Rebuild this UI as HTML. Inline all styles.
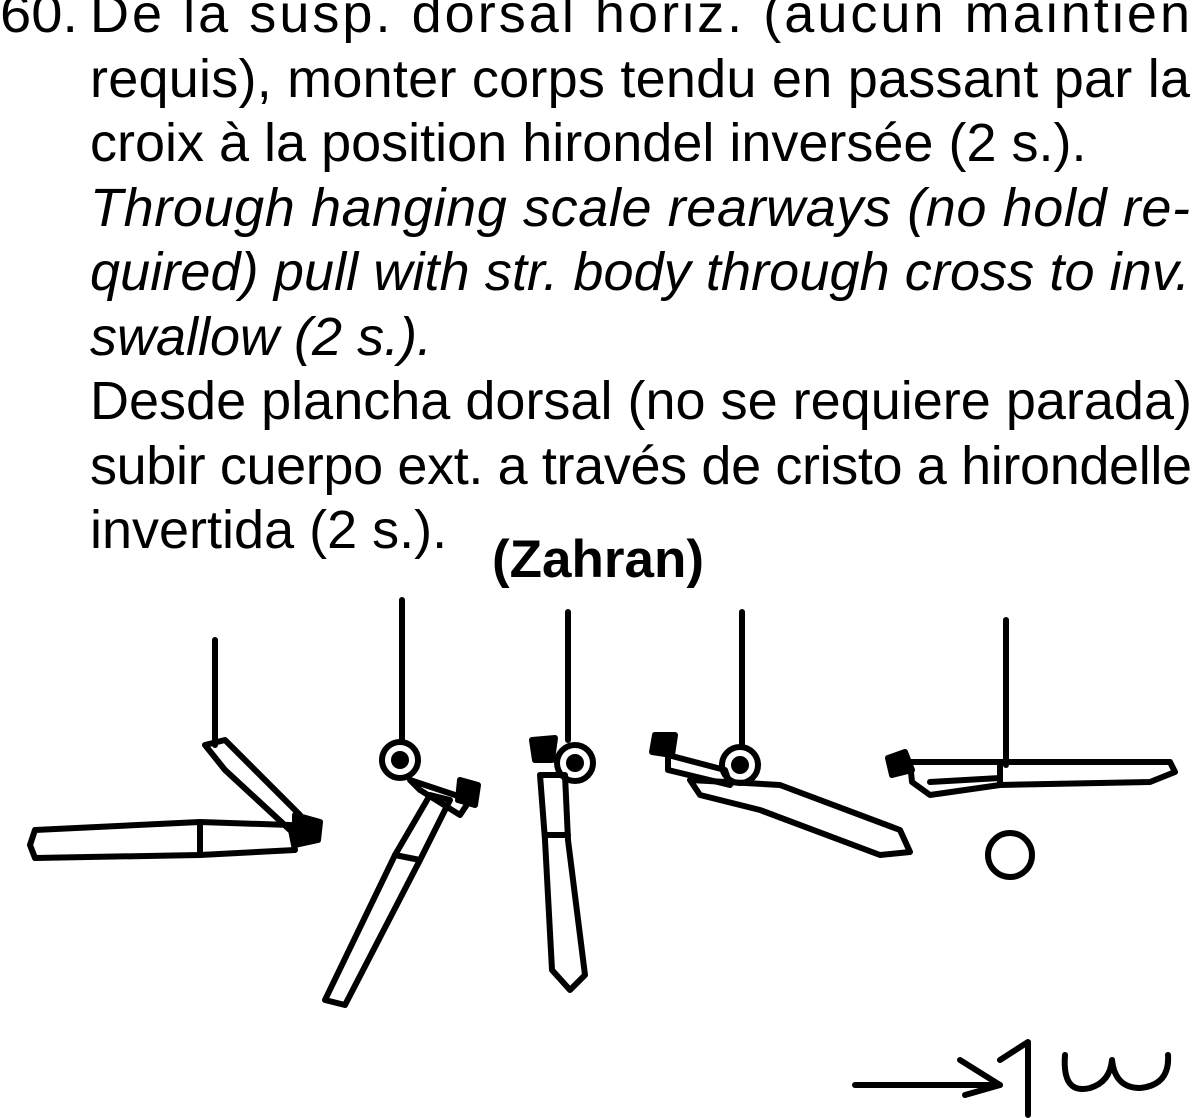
<!DOCTYPE html>
<html><head><meta charset="utf-8">
<style>
html,body{margin:0;padding:0;background:#fff;}
svg{display:block;}
text{font-family:"Liberation Sans",Arial,sans-serif;fill:#000;}
</style></head>
<body>
<svg width="1198" height="1118" viewBox="0 0 1198 1118">
<g font-size="54">
<text x="0" y="32" textLength="78" lengthAdjust="spacingAndGlyphs">60.</text>
<text x="90" y="32" textLength="1100" lengthAdjust="spacing">De la susp. dorsal horiz. (aucun maintien</text>
<text x="90" y="97" textLength="1100" lengthAdjust="spacing">requis), monter corps tendu en passant par la</text>
<text x="90" y="161">croix à la position hirondel inversée (2 s.).</text>
<text x="90" y="226" font-style="italic" textLength="1100" lengthAdjust="spacing">Through hanging scale rearways (no hold re-</text>
<text x="90" y="290" font-style="italic" textLength="1100" lengthAdjust="spacing">quired) pull with str. body through cross to inv.</text>
<text x="90" y="355" font-style="italic">swallow (2 s.).</text>
<text x="90" y="419" textLength="1102" lengthAdjust="spacing">Desde plancha dorsal (no se requiere parada)</text>
<text x="90" y="484" textLength="1102" lengthAdjust="spacing">subir cuerpo ext. a través de cristo a hirondelle</text>
<text x="90" y="548">invertida (2 s.).</text>
</g>
<text x="598" y="577" font-size="53" font-weight="bold" text-anchor="middle">(Zahran)</text>

<g fill="none" stroke="#000" stroke-width="6" stroke-linejoin="round" stroke-linecap="round">
<g>
<line x1="215" y1="640" x2="215" y2="745"/>
<path d="M205 745 L225 740 L300 815 L290 830 L225 770 Z"/>
<path d="M35 830 L200 822 L290 825 L295 850 L200 855 L35 858 L30 845 Z"/>
<line x1="200" y1="825" x2="200" y2="855"/>
<path d="M295 815 L320 822 L318 840 L295 845 Z" fill="#000"/>
</g>
<g>
<line x1="402" y1="600" x2="402" y2="740"/>
<circle cx="400" cy="760" r="18"/>
<circle cx="400" cy="760" r="6" fill="#000"/>
<path d="M410 780 L470 800 L460 815 L420 790 Z"/>
<path d="M460 780 L478 785 L475 805 L458 800 Z" fill="#000"/>
<path d="M430 795 L450 800 L420 860 L345 1005 L325 1000 L395 855 Z"/>
<line x1="395" y1="855" x2="420" y2="860"/>
</g>
<g>
<line x1="568" y1="612" x2="568" y2="740"/>
<circle cx="575" cy="763" r="18"/>
<circle cx="575" cy="763" r="6" fill="#000"/>
<path d="M532 740 L555 738 L552 760 L535 760 Z" fill="#000"/>
<path d="M540 775 L565 775 L568 840 L585 975 L570 990 L552 970 L545 840 Z"/>
<line x1="545" y1="835" x2="568" y2="835"/>
</g>
<g>
<line x1="742" y1="612" x2="742" y2="745"/>
<circle cx="740" cy="765" r="18"/>
<circle cx="740" cy="765" r="6" fill="#000"/>
<path d="M655 735 L675 735 L672 755 L652 752 Z" fill="#000"/>
<path d="M668 755 L725 770 L730 785 L668 770 Z"/>
<path d="M690 780 L780 785 L900 830 L910 852 L880 855 L760 810 L700 795 Z"/>
</g>
<g>
<line x1="1006" y1="620" x2="1006" y2="765"/>
<path d="M888 758 L905 752 L912 770 L892 775 Z" fill="#000"/>
<path d="M910 762 L1000 762 L1170 762 L1175 772 L1150 782 L1000 785 L930 795 L912 782 Z"/>
<line x1="1000" y1="762" x2="1000" y2="782"/>
<line x1="930" y1="782" x2="1000" y2="778"/>
<circle cx="1010" cy="855" r="22"/>
</g>
<g>
<line x1="855" y1="1085" x2="1000" y2="1085"/>
<path d="M960 1060 L1000 1085 L965 1095"/>
<path d="M1000 1060 L1028 1042 L1028 1115"/>
<path d="M1065 1055 Q1062 1095 1090 1088 Q1110 1082 1112 1060 Q1115 1088 1140 1088 Q1170 1085 1168 1055"/>
</g>
</g>
</svg>
</body></html>
